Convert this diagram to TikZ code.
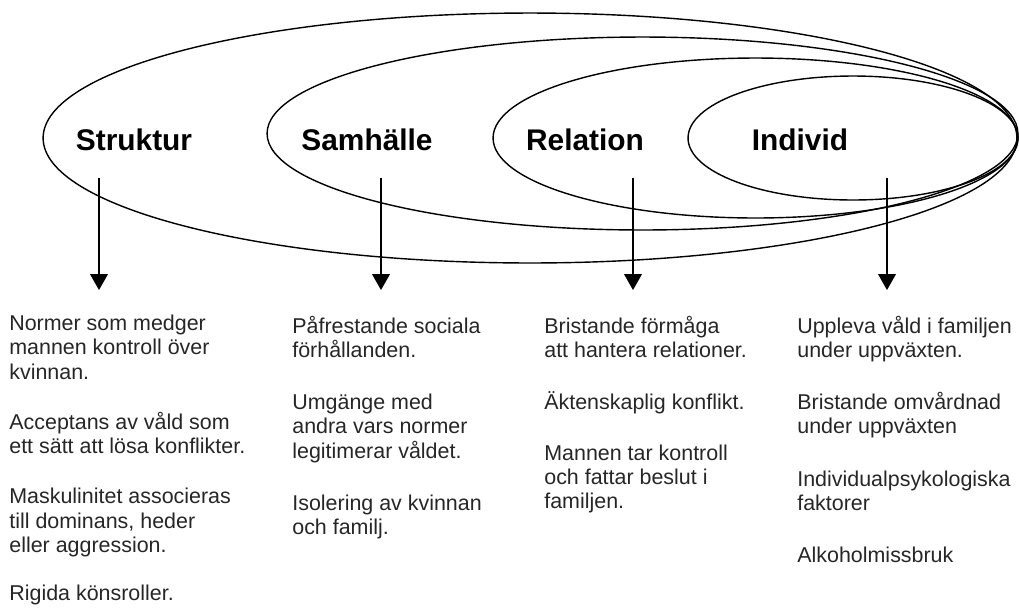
\documentclass[tikz,border=0pt]{standalone}
\usepackage{fontspec}
\setmainfont{Liberation Sans}
\usepackage{tikz}
\usetikzlibrary{arrows.meta, positioning}

\begin{document}
\begin{tikzpicture}[
  x=0.02cm, y=-0.02cm,
  ring/.style={draw, line width=0.8pt},
  lvl/.style={font=\fontsize{17}{20}\selectfont\bfseries, inner sep=0pt},
  txt/.style={anchor=north west, align=left, inner sep=0pt, text=black!85, font=\fontsize{12.2}{13.7}\selectfont},
  arr/.style={line width=0.9pt, -{Triangle[length=9pt, width=10pt]}}
]
  \useasboundingbox (0,0) rectangle (1019,610);
  \draw[ring] (530,138) ellipse [x radius=9.74cm, y radius=2.5cm];
  \draw[ring] (642.5,133.5) ellipse [x radius=7.51cm, y radius=1.93cm];
  \draw[ring] (755.5,138) ellipse [x radius=5.25cm, y radius=1.6cm];
  \draw[ring] (853,138) ellipse [x radius=3.3cm, y radius=1.24cm];

  \node[lvl] (struktur) at (134,140) {Struktur};
  \node[lvl] (samhalle) at (367,140) {Samhälle};
  \node[lvl] (relation) at (585,140) {Relation};
  \node[lvl] (individ) at (800,140) {Individ};

  \node[txt] (strukturtxt) at (9,315) {Normer som medger\\mannen kontroll över\\kvinnan.\\[15pt]
    Acceptans av våld som\\ett sätt att lösa konflikter.\\[15pt]
    Maskulinitet associeras\\till dominans, heder\\eller aggression.\\[14pt]
    Rigida könsroller.};
  \node[txt] (samhalletxt) at (292,316) {Påfrestande sociala\\förhållanden.\\[16pt]
    Umgänge med\\andra vars normer\\legitimerar våldet.\\[16pt]
    Isolering av kvinnan\\och familj.};
  \node[txt] (relationtxt) at (544,316) {Bristande förmåga\\att hantera relationer.\\[16pt]
    Äktenskaplig konflikt.\\[15pt]
    Mannen tar kontroll\\och fattar beslut i\\familjen.};
  \node[txt] (individtxt) at (797,316) {Uppleva våld i familjen\\under uppväxten.\\[16pt]
    Bristande omvårdnad\\under uppväxten\\[16pt]
    Individualpsykologiska\\faktorer\\[16pt]
    Alkoholmissbruk};

  \coordinate (s1) at (99,178);   \coordinate (e1) at (99,290);
  \coordinate (s2) at (381,178);  \coordinate (e2) at (381,290);
  \coordinate (s3) at (633,178);  \coordinate (e3) at (633,290);
  \coordinate (s4) at (887,178);  \coordinate (e4) at (887,290);
  \draw[arr] (s1) -- (e1);
  \draw[arr] (s2) -- (e2);
  \draw[arr] (s3) -- (e3);
  \draw[arr] (s4) -- (e4);
\end{tikzpicture}
\end{document}
